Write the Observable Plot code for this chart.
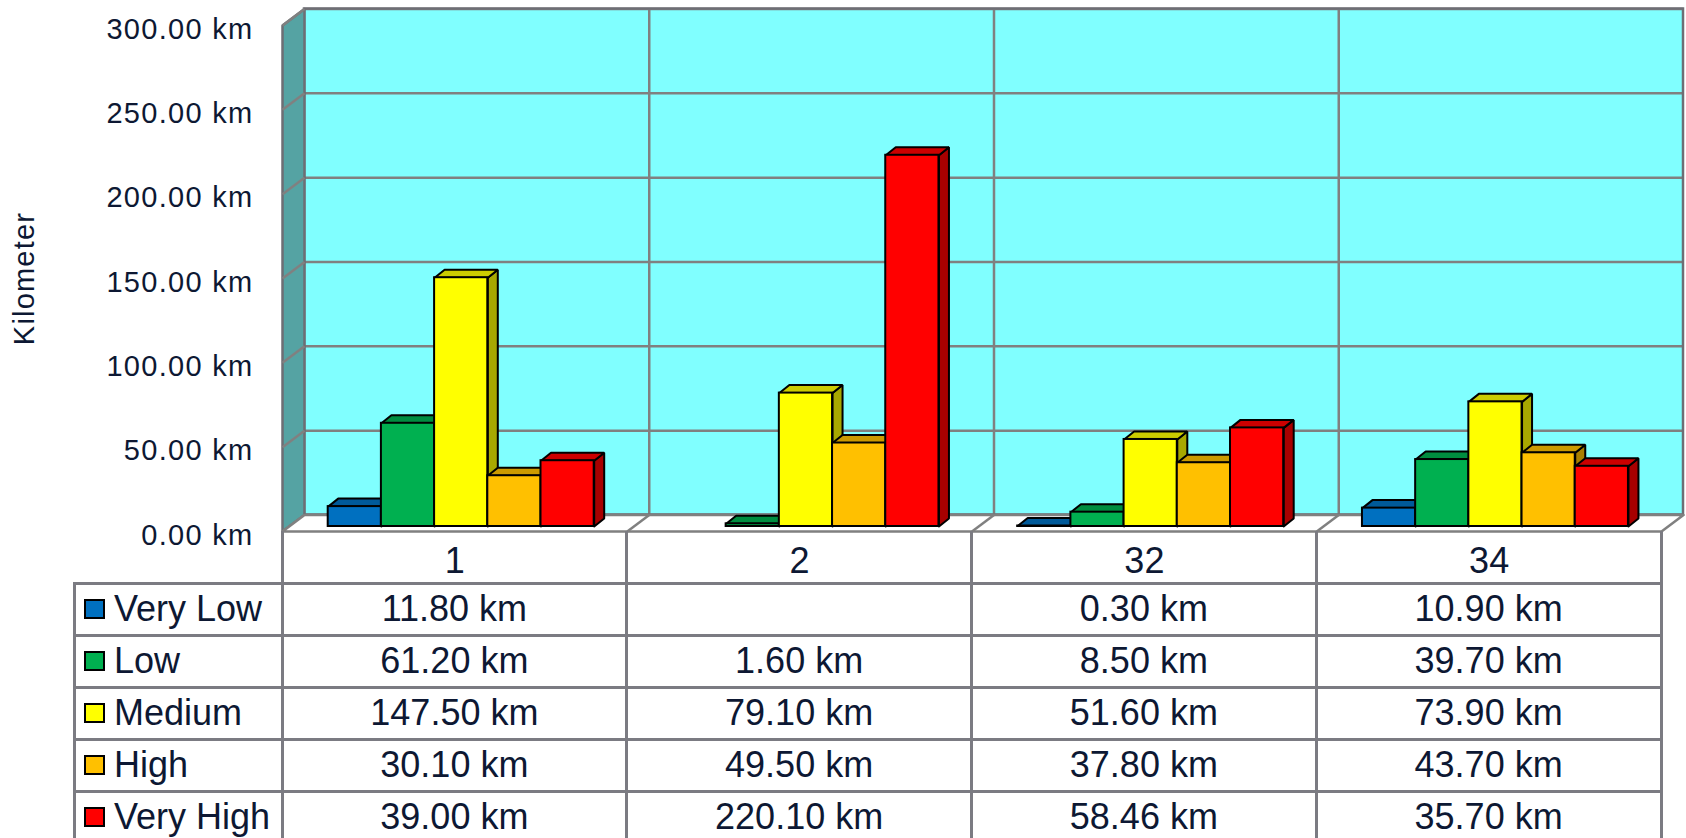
<!DOCTYPE html>
<html>
<head>
<meta charset="utf-8">
<script src="https://cdn.jsdelivr.net/npm/d3@7"></script>
<script src="https://cdn.jsdelivr.net/npm/@observablehq/plot@0.6"></script>
<style>
  html, body { margin: 0; padding: 0; background: #fff; width: 1686px; height: 838px; overflow: hidden; }
  #wrap { position: relative; width: 1686px; height: 838px; font-family: "Liberation Sans", Arial, sans-serif; color: #0d1833; }
  #chart svg { display: block; position: absolute; left: 0; top: 0; }
  .ln { position: absolute; background: #7b7b82; }
  .cell { position: absolute; font-size: 36px; line-height: 52px; height: 52px; white-space: nowrap; }
  .sw { position: absolute; width: 17px; height: 16px; border: 2px solid #000; }
</style>
</head>
<body>
<div id="wrap"><div id="chart"></div><div id="table"></div></div>
<script>
// ---- data ----
const categories = ["1", "2", "32", "34"];
const series = ["Very Low", "Low", "Medium", "High", "Very High"];
const veryLow  = [11.8, null, 0.3, 10.9];
const low      = [61.2, 1.6, 8.5, 39.7];
const medium   = [147.5, 79.1, 51.6, 73.9];
const high     = [30.1, 49.5, 37.8, 43.7];
const veryHigh = [39.0, 220.1, 58.46, 35.7];
const seriesColors = ["#0070C0", "#00B050", "#FFFF00", "#FFC000", "#FF0000"];
const yTicks = [0, 50, 100, 150, 200, 250, 300];
const yLabel = "Kilometer";
const unit = " km";

// ---- layout ----
const W = 1686, H = 583, mL = 282, mR = 25, mT = 25, mB = 52;
const yMax = 300;
const nCat = categories.length;
const kx = (W - mL - mR) / nCat;       // px per category unit
const ky = (H - mT - mB) / yMax;       // px per km
const BACK = {dx: 22, dy: -16.5};      // back wall plane offset (px)
const PLANE = {dx: 6.7, dy: -5};       // bar plane offset (px)
const bx = BACK.dx / kx, by = -BACK.dy / ky;
const BAR_OFF = 39 / kx, BAR_W = 53.2 / kx, DEP_X = 10 / kx, DEP_Y = 8 / ky;
const GRID = "#808080";

const values = [veryLow, low, medium, high, veryHigh];
const shade = (c, k) => { const r = d3.rgb(c); return d3.rgb(r.r * k, r.g * k, r.b * k).formatHex(); };

const bars = [];
categories.forEach((cat, c) => series.forEach((name, s) => {
  const v = values[s][c];
  if (v == null) return;
  bars.push({c, s, v, color: seriesColors[s]});
}));

const poly = (id, pts, fill) => pts.concat([pts[0]]).map(([x, y]) => ({id, x, y, fill}));

const sides = bars.flatMap((b, i) => {
  const x2 = b.c + BAR_OFF + (b.s + 1) * BAR_W;
  return poly(i, [[x2, 0], [x2, b.v], [x2 + DEP_X, b.v + DEP_Y], [x2 + DEP_X, DEP_Y]], shade(b.color, 0.66));
});
const tops = bars.flatMap((b, i) => {
  const x1 = b.c + BAR_OFF + b.s * BAR_W, x2 = x1 + BAR_W;
  return poly(i, [[x1, b.v], [x2, b.v], [x2 + DEP_X, b.v + DEP_Y], [x1 + DEP_X, b.v + DEP_Y]], shade(b.color, 0.8));
});
const fronts = bars.map(b => ({
  x1: b.c + BAR_OFF + b.s * BAR_W, x2: b.c + BAR_OFF + (b.s + 1) * BAR_W, y1: 0, y2: b.v, fill: b.color
}));

const leftWall = poly("lw", [[0, 0], [0, yMax], [bx, yMax + by], [bx, by]], "#55a3a3");
const floor = poly("fl", [[0, 0], [nCat, 0], [nCat + bx, by], [bx, by]], "#ffffff");
const catBounds = d3.range(1, nCat);

const plot = Plot.plot({
  width: W, height: H,
  marginLeft: mL, marginRight: mR, marginTop: mT, marginBottom: mB,
  x: {type: "linear", domain: [0, nCat]},
  y: {type: "linear", domain: [0, yMax]},
  color: {type: "identity"},
  style: {fontFamily: "Liberation Sans, Arial, sans-serif", color: "#0d1833", background: "transparent", overflow: "visible"},
  marks: [
    // back wall
    Plot.rect([{x1: 0, x2: nCat, y1: 0, y2: yMax}], {x1: "x1", x2: "x2", y1: "y1", y2: "y2", fill: "#80ffff", ...BACK}),
    Plot.ruleY(yTicks, {x1: 0, x2: nCat, stroke: GRID, strokeWidth: 2.5, ...BACK}),
    Plot.ruleX(catBounds, {y1: 0, y2: yMax, stroke: GRID, strokeWidth: 2.5, ...BACK}),
    Plot.rect([{x1: 0, x2: nCat, y1: 0, y2: yMax}], {x1: "x1", x2: "x2", y1: "y1", y2: "y2", fill: "none", stroke: "#6e6e74", strokeWidth: 2.5, ...BACK}),
    // left wall
    Plot.line(leftWall, {x: "x", y: "y", z: "id", fill: "fill", stroke: "#6e6e74", strokeWidth: 2.5}),
    Plot.link(yTicks, {x1: 0, x2: bx, y1: d => d, y2: d => d + by, stroke: GRID, strokeWidth: 2.5}),
    // floor
    Plot.line(floor, {x: "x", y: "y", z: "id", fill: "fill", stroke: GRID, strokeWidth: 2.5}),
    Plot.link(catBounds, {x1: d => d, x2: d => d + bx, y1: 0, y2: by, stroke: GRID, strokeWidth: 2.5}),
    // bars
    Plot.line(sides, {x: "x", y: "y", z: "id", fill: "fill", stroke: "#000", strokeWidth: 2, strokeLinejoin: "miter", ...PLANE}),
    Plot.line(tops, {x: "x", y: "y", z: "id", fill: "fill", stroke: "#000", strokeWidth: 2, strokeLinejoin: "miter", ...PLANE}),
    Plot.rect(fronts, {x1: "x1", x2: "x2", y1: "y1", y2: "y2", fill: "fill", stroke: "#000", strokeWidth: 2, ...PLANE}),
    // axes
    Plot.axisY(yTicks, {tickSize: 0, tickPadding: 29, fontSize: 29, dy: 4, tickFormat: d => d.toFixed(2) + unit}),
    Plot.axisX(categories.map((d, i) => i + 0.5), {tickSize: 0, tickPadding: 16, fontSize: 36, tickFormat: d => categories[Math.floor(d)]}),
    Plot.text([yLabel], {frameAnchor: "left", textAnchor: "middle", dx: 24 - mL, rotate: -90, fontSize: 29, text: d => d})
  ]
});

plot.querySelectorAll('g[aria-label="y-axis tick label"] text').forEach(t => t.style.letterSpacing = "1.3px");
plot.querySelectorAll('text').forEach(t => { if (t.textContent === yLabel) t.style.letterSpacing = "1.2px"; });
document.getElementById("chart").appendChild(plot);

// ---- data table below the plot, columns aligned to the plot's x scale ----
const X = plot.scale("x");
const colX = d3.range(nCat + 1).map(i => X.apply(i));
const legendLeft = 74;
const tableTop = H;                 // first body row starts below header row
const rowH = 52;
const tbl = document.getElementById("table");
const lw = 3;
const addLine = (x, y, w, h) => {
  const d = document.createElement("div");
  d.className = "ln";
  Object.assign(d.style, {left: x + "px", top: y + "px", width: w + "px", height: h + "px"});
  tbl.appendChild(d);
};
// header row verticals (from floor front edge down)
const floorY = plot.scale("y").apply(0);
colX.forEach(x => addLine(x - lw / 2, floorY, lw, tableTop - floorY));
// body horizontals
for (let r = 0; r <= series.length; r++) addLine(legendLeft - lw / 2, tableTop + r * rowH - lw / 2, colX[nCat] - legendLeft + lw, lw);
// body verticals
[legendLeft, ...colX].forEach(x => addLine(x - lw / 2, tableTop, lw, 838 - tableTop));

series.forEach((name, s) => {
  const top = tableTop + s * rowH;
  const sw = document.createElement("div");
  sw.className = "sw";
  Object.assign(sw.style, {left: (legendLeft + 10) + "px", top: (top + 16) + "px", background: seriesColors[s]});
  tbl.appendChild(sw);
  const lab = document.createElement("div");
  lab.className = "cell";
  Object.assign(lab.style, {left: (legendLeft + 40) + "px", top: top + "px"});
  lab.textContent = name;
  tbl.appendChild(lab);
  categories.forEach((cat, c) => {
    const v = values[s][c];
    const cell = document.createElement("div");
    cell.className = "cell";
    Object.assign(cell.style, {left: colX[c] + "px", width: (colX[c + 1] - colX[c]) + "px", top: top + "px", textAlign: "center"});
    cell.textContent = v == null ? "" : v.toFixed(2) + unit;
    tbl.appendChild(cell);
  });
});
</script>
</body>
</html>
